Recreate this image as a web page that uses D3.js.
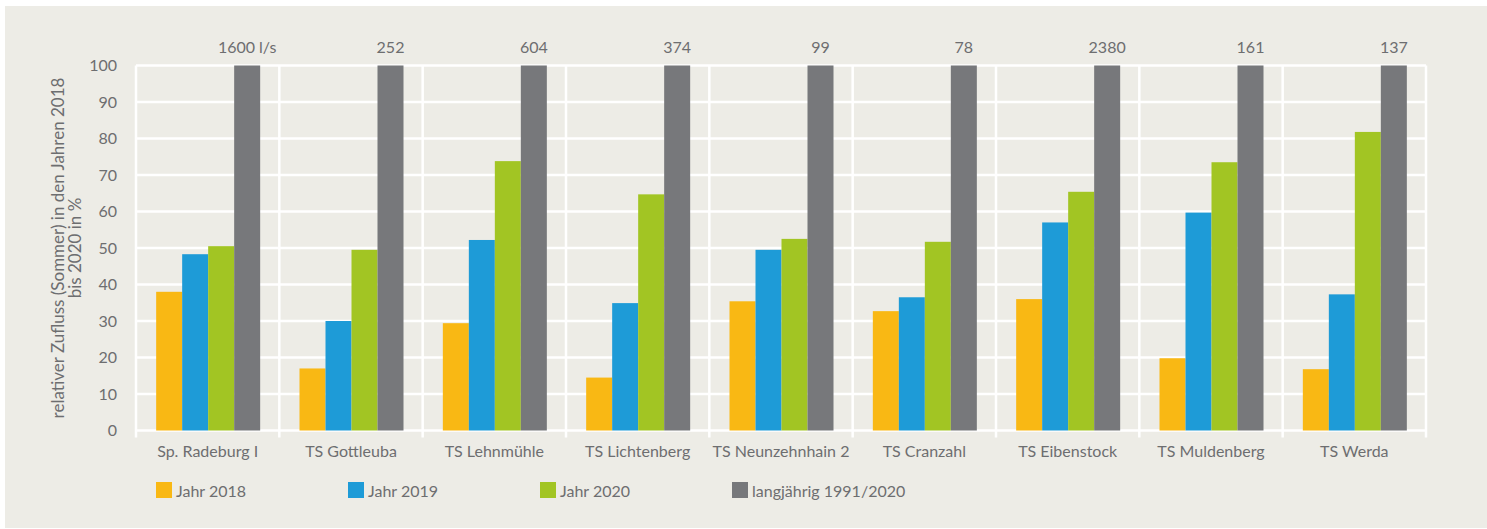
<!DOCTYPE html>
<html>
<head>
<meta charset="utf-8">
<script src="https://cdn.jsdelivr.net/npm/d3@7"></script>
<style>
  body { margin: 0; background: #fff; }
  text { font-family: Lato, "Liberation Sans", sans-serif; fill: #6d6e70; }
</style>
</head>
<body>
<div id="chart"></div>
<script>
var stations = ["Sp. Radeburg I", "TS Gottleuba", "TS Lehnmühle", "TS Lichtenberg", "TS Neunzehnhain 2",
                "TS Cranzahl", "TS Eibenstock", "TS Muldenberg", "TS Werda"];
var meanFlow = ["1600 l/s", "252", "604", "374", "99", "78", "2380", "161", "137"];
var year2018 = [38.0, 17.0, 29.4, 14.5, 35.4, 32.7, 36.0, 19.8, 16.8];
var year2019 = [48.3, 30.0, 52.2, 34.9, 49.5, 36.5, 57.0, 59.7, 37.3];
var year2020 = [50.5, 49.5, 73.8, 64.7, 52.5, 51.7, 65.4, 73.5, 81.8];
var longTerm = [100, 100, 100, 100, 100, 100, 100, 100, 100];
var seriesNames = ["Jahr 2018", "Jahr 2019", "Jahr 2020", "langjährig 1991/2020"];
var yTicks = [0, 10, 20, 30, 40, 50, 60, 70, 80, 90, 100];

var colors = ["#f9b814", "#1e9bd7", "#a2c523", "#77787b"];
var series = [year2018, year2019, year2020, longTerm];

var W = 1487, H = 529;
var margin = {top: 65.5, right: 61, bottom: 98.5, left: 136};
var width = W - margin.left - margin.right,
    height = H - margin.top - margin.bottom;

var svg = d3.select("#chart").append("svg")
    .attr("width", W).attr("height", H);

// panel background
svg.append("rect")
    .attr("x", 5).attr("y", 6)
    .attr("width", W - 5).attr("height", 522)
    .attr("fill", "#edece6");

var g = svg.append("g").attr("transform", "translate(" + margin.left + "," + margin.top + ")");

var x = d3.scaleBand().domain(stations).range([0, width]).paddingInner(0).paddingOuter(0);
var inner = d3.scaleBand().domain(d3.range(4)).range([0, 104]);
var groupOffset = (x.bandwidth() - 104) / 2 + 0.5;
var y = d3.scaleLinear().domain([0, 100]).range([height, 0]);

// horizontal grid
g.selectAll(".hgrid").data(yTicks).enter().append("line")
    .attr("x1", 0).attr("x2", width)
    .attr("y1", function (d) { return y(d); })
    .attr("y2", function (d) { return y(d); })
    .attr("stroke", "#fff").attr("stroke-width", 2.5);

// vertical grid (category separators, incl. ticks below axis)
var edges = stations.map(function (s) { return x(s); }).concat([width]);
g.selectAll(".vgrid").data(edges).enter().append("line")
    .attr("x1", function (d) { return d; })
    .attr("x2", function (d) { return d; })
    .attr("y1", 0).attr("y2", height + 7)
    .attr("stroke", "#fff").attr("stroke-width", 2.5);

// bars
series.forEach(function (vals, si) {
  g.selectAll(".bar" + si).data(vals).enter().append("rect")
      .attr("x", function (d, i) { return x(stations[i]) + groupOffset + inner(si); })
      .attr("width", inner.bandwidth())
      .attr("y", function (d) { return y(d); })
      .attr("height", function (d) { return height - y(d); })
      .attr("fill", colors[si]);
});

// labels above long-term bars
g.selectAll(".flow").data(meanFlow).enter().append("text")
    .attr("x", function (d, i) { return x(stations[i]) + groupOffset + inner(3) + inner.bandwidth() / 2; })
    .attr("y", -13)
    .attr("text-anchor", "middle")
    .style("font-size", "16px")
    .text(function (d) { return d; });

// y tick labels
g.selectAll(".ytick").data(yTicks).enter().append("text")
    .attr("x", -19)
    .attr("y", function (d) { return y(d); })
    .attr("dy", "0.35em")
    .attr("text-anchor", "end")
    .style("font-size", "16px")
    .text(function (d) { return d; });

// category labels
g.selectAll(".xlab").data(stations).enter().append("text")
    .attr("x", function (d) { return x(d) + x.bandwidth() / 2; })
    .attr("y", height + 26)
    .attr("text-anchor", "middle")
    .style("font-size", "16px")
    .text(function (d) { return d; });

// y axis title
var yt = svg.append("text")
    .attr("transform", "translate(64,248) rotate(-90)")
    .attr("text-anchor", "middle")
    .style("font-size", "17px");
yt.append("tspan").attr("x", 0).attr("y", 0).text("relativer Zufluss (Sommer) in den Jahren 2018");
yt.append("tspan").attr("x", 0).attr("y", 17).text("bis 2020 in %");

// legend
var legend = svg.selectAll(".legend").data(seriesNames).enter().append("g")
    .attr("transform", function (d, i) { return "translate(" + (156 + i * 192) + ",482)"; });
legend.append("rect")
    .attr("width", 16).attr("height", 16)
    .attr("fill", function (d, i) { return colors[i]; });
legend.append("text")
    .attr("x", 20).attr("y", 9).attr("dy", "0.35em")
    .style("font-size", "16px")
    .text(function (d) { return d; });
</script>
</body>
</html>
